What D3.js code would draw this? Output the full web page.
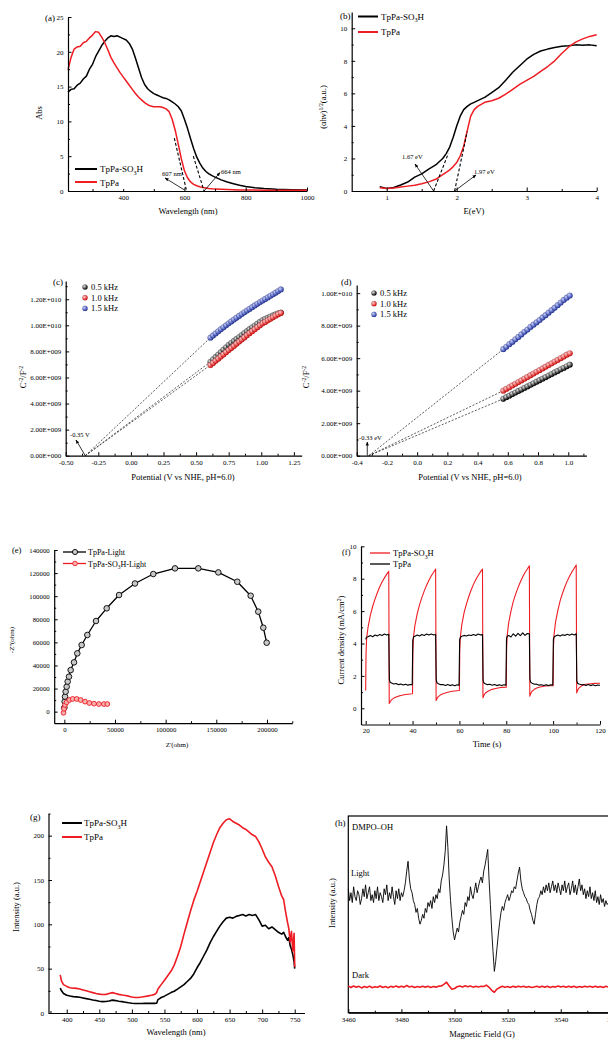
<!DOCTYPE html>
<html><head><meta charset="utf-8">
<script src="https://cdn.jsdelivr.net/npm/d3@7"></script>
<style>
body{margin:0;background:#fff;}
svg{display:block;font-family:"Liberation Serif","Times New Roman",serif;}
</style></head><body>
<svg id="fig" width="608" height="1040"></svg>
<script>
// ---------- (a) UV-vis absorption ----------
const aWave = [220,230,240,250,260,270,280,290,300,310,320,330,340,350,360,370,380,390,400,410,420,430,440,450,460,470,480,490,500,510,520,530,540,550,560,570,580,590,600,610,620,630,640,650,660,670,680,690,700,720,740,760,780,800,830,860,900,950,1000];
const aSO3H = [14.2,14.6,14.7,15.2,15.5,16.1,16.5,17.5,18.2,19.3,20.1,20.9,21.5,22.0,22.3,22.2,22.3,22.1,21.9,21.7,21.2,20.4,19.1,17.7,16.3,15.3,14.7,14.3,14.0,13.8,13.6,13.4,13.3,13.1,12.8,12.5,12.1,11.5,10.3,9.0,7.5,6.1,4.9,4.0,3.3,2.8,2.45,2.2,2.0,1.6,1.3,1.05,0.82,0.65,0.47,0.35,0.25,0.18,0.14];
const aTpPa = [17.4,19.2,20.4,20.7,20.8,21.3,21.5,22.0,22.4,22.9,22.8,22.1,21.3,20.3,19.2,18.4,17.7,17.0,16.4,15.8,15.2,14.6,14.0,13.5,13.1,12.7,12.4,12.2,12.1,12.1,12.1,12.0,11.8,11.4,10.3,8.7,6.7,4.6,2.9,1.9,1.3,0.95,0.75,0.6,0.5,0.43,0.37,0.33,0.3,0.25,0.21,0.18,0.16,0.15,0.13,0.12,0.1,0.09,0.09];
const aTanSO3H = [[629,5.0],[664,0]];
const aTanTpPa = [[567,7.6],[607,0]];
const aXTicks = [400,600,800,1000], aXMinor = [300,500,700,900];
const aYTicks = [0,5,10,15,20,25], aYMinor = [2.5,7.5,12.5,17.5,22.5];

// ---------- (b) Tauc plot ----------
const bE = [0.9,1.0,1.1,1.2,1.3,1.4,1.5,1.6,1.7,1.8,1.85,1.9,1.95,2.0,2.05,2.1,2.15,2.2,2.25,2.3,2.4,2.5,2.6,2.7,2.8,2.9,3.0,3.1,3.2,3.3,3.4,3.5,3.6,3.7,3.8,3.9,4.0];
const bSO3H = [0.27,0.16,0.22,0.37,0.55,0.85,1.05,1.35,1.6,2.0,2.3,2.7,3.3,4.0,4.6,5.0,5.2,5.35,5.45,5.55,5.75,6.05,6.35,6.8,7.3,7.7,8.1,8.4,8.6,8.72,8.82,8.9,8.93,8.98,8.95,8.98,8.92];
const bTpPa = [0.2,0.15,0.18,0.24,0.3,0.36,0.44,0.56,0.72,1.0,1.15,1.3,1.5,1.75,2.15,2.75,3.7,4.6,5.0,5.2,5.45,5.55,5.7,5.95,6.25,6.55,6.8,7.05,7.35,7.65,8.0,8.45,8.85,9.15,9.35,9.5,9.6];
const bTanSO3H = [[1.67,0],[1.88,2.3]];
const bTanTpPa = [[1.97,0],[2.15,3.65]];
const bXTicks = [1,2,3,4], bXMinor = [1.5,2.5,3.5];
const bYTicks = [0,2,4,6,8,10], bYMinor = [1,3,5,7,9];

// ---------- (c) Mott-Schottky, TpPa ----------
const cV = [0.61,0.63,0.65,0.67,0.69,0.71,0.73,0.75,0.77,0.79,0.81,0.83,0.85,0.87,0.89,0.91,0.93,0.95,0.97,0.99,1.01,1.03,1.05,1.07,1.09,1.11,1.13,1.15];
const c05 = [7.20,7.39,7.57,7.76,7.94,8.13,8.31,8.50,8.65,8.80,8.95,9.10,9.25,9.40,9.55,9.70,9.84,9.98,10.12,10.26,10.40,10.49,10.58,10.67,10.76,10.84,10.92,10.98];
const c10 = [6.95,7.11,7.28,7.44,7.61,7.77,7.94,8.10,8.26,8.42,8.59,8.75,8.91,9.07,9.24,9.40,9.55,9.70,9.85,10.00,10.15,10.26,10.38,10.50,10.62,10.74,10.85,10.95];
const c15 = [9.05,9.22,9.38,9.54,9.70,9.85,10.00,10.15,10.30,10.44,10.58,10.72,10.86,11.00,11.13,11.26,11.39,11.52,11.65,11.78,11.90,12.02,12.14,12.26,12.38,12.50,12.63,12.75];
const cFlat = -0.35;
const cXTicks = [-0.5,-0.25,0,0.25,0.5,0.75,1.0,1.25];
const cXLabels = ["-0.50","-0.25","0.00","0.25","0.50","0.75","1.00","1.25"];
const cXMinor = [-0.375,-0.125,0.125,0.375,0.625,0.875,1.125];
const cYTicks = [0,2e9,4e9,6e9,8e9,1e10,1.2e10];
const cYLabels = ["0.00E+000","2.00E+009","4.00E+009","6.00E+009","8.00E+009","1.00E+010","1.20E+010"];
const cYMinor = [1e9,3e9,5e9,7e9,9e9,1.1e10,1.3e10];

// ---------- (d) Mott-Schottky, TpPa-SO3H ----------
const dV = [0.57,0.59,0.61,0.63,0.65,0.67,0.69,0.71,0.73,0.75,0.77,0.79,0.81,0.83,0.85,0.87,0.89,0.91,0.93,0.95,0.97,0.99,1.01];
const d05 = [3.50,3.60,3.69,3.79,3.88,3.98,4.07,4.17,4.26,4.36,4.45,4.55,4.64,4.74,4.83,4.93,5.02,5.12,5.21,5.31,5.40,5.50,5.60];
const d10 = [4.00,4.11,4.21,4.32,4.42,4.53,4.63,4.74,4.84,4.95,5.05,5.16,5.26,5.37,5.47,5.58,5.68,5.79,5.89,6.00,6.10,6.21,6.30];
const d15 = [6.55,6.70,6.86,7.00,7.16,7.30,7.46,7.62,7.76,7.92,8.06,8.20,8.34,8.50,8.64,8.80,8.95,9.10,9.26,9.42,9.58,9.72,9.85];
const dFlat = -0.32, dFlatLabel = -0.33;
const dXTicks = [-0.4,-0.2,0,0.2,0.4,0.6,0.8,1.0];
const dXLabels = ["-0.4","-0.2","0.0","0.2","0.4","0.6","0.8","1.0"];
const dXMinor = [-0.3,-0.1,0.1,0.3,0.5,0.7,0.9,1.1];
const dYTicks = [0,2e9,4e9,6e9,8e9,1e10];
const dYLabels = ["0.00E+000","2.00E+009","4.00E+009","6.00E+009","8.00E+009","1.00E+010"];
const dYMinor = [1e9,3e9,5e9,7e9,9e9];

// ---------- (e) Nyquist ----------
const eTpPaRe = [0,330,660,1300,2300,3300,4600,6250,9540,12800,17100,22700,31250,41800,54000,69700,87800,109200,132200,152000,170700,183900,191400,196400,199700];
const eTpPaIm = [3500,8700,13000,17300,21600,26000,30300,36000,42700,50500,57700,66400,78500,89500,101000,111000,119200,124100,124100,120600,112500,100400,86600,72700,59700];
const eSO3HRe = [-800,-300,660,2300,4900,8200,12200,16100,20400,24700,29300,34200,39100,42400];
const eSO3HIm = [-1000,2500,5800,8100,10100,11000,11000,10100,8700,7500,6900,6600,6600,6600];
const eXTicks = [0,50000,100000,150000,200000], eXMinor = [25000,75000,125000,175000,225000];
const eYTicks = [0,20000,40000,60000,80000,100000,120000,140000], eYMinor = [10000,30000,50000,70000,90000,110000,130000];

// ---------- (f) transient photocurrent ----------
const fSO3HT = [20.0,20.15,20.4,21,22,23,24,25,26,27,28,29,29.85,30.05,30.5,31,32,33,34,35,36,37,38,39.85,
  40.0,40.15,40.4,41,42,43,44,45,46,47,48,49,49.85,50.05,50.5,51,52,53,54,55,56,57,58,59.85,
  60.0,60.15,60.4,61,62,63,64,65,66,67,68,69,69.85,70.05,70.5,71,72,73,74,75,76,77,78,79.85,
  80.0,80.15,80.4,81,82,83,84,85,86,87,88,89,89.85,90.05,90.5,91,92,93,94,95,96,97,98,99.85,
  100.0,100.15,100.4,101,102,103,104,105,106,107,108,109,109.85,110.05,110.5,111,112,113,114,115,116,117,118,119,120];
const fSO3HJ = [1.1,3.4,4.3,5.0,5.75,6.3,6.75,7.15,7.5,7.8,8.05,8.28,8.45,0.3,0.42,0.52,0.63,0.7,0.75,0.79,0.82,0.85,0.87,0.9,
  0.92,3.5,4.4,5.1,5.85,6.4,6.85,7.25,7.6,7.9,8.18,8.4,8.6,0.48,0.62,0.72,0.83,0.9,0.95,0.99,1.02,1.05,1.07,1.1,
  1.1,3.6,4.4,5.15,5.9,6.45,6.9,7.3,7.65,7.95,8.2,8.42,8.6,0.65,0.82,0.93,1.04,1.12,1.17,1.21,1.24,1.27,1.29,1.3,
  1.3,3.7,4.5,5.25,6.0,6.6,7.05,7.45,7.8,8.1,8.38,8.6,8.8,0.75,0.93,1.05,1.17,1.25,1.3,1.33,1.36,1.38,1.39,1.4,
  1.4,3.8,4.55,5.3,6.05,6.65,7.1,7.5,7.85,8.15,8.42,8.65,8.85,0.95,1.12,1.25,1.37,1.44,1.48,1.5,1.52,1.53,1.54,1.55,1.55];
const fTpPaT = [20.0,20.3,21,22,23,24,25,26,27,28,29,29.85,30.1,30.4,31,32,33,34,35,36,37,38,39,39.85,
  40.1,40.4,41,42,43,44,45,46,47,48,49,49.85,50.1,50.4,51,52,53,54,55,56,57,58,59,59.85,
  60.1,60.4,61,62,63,64,65,66,67,68,69,69.85,70.1,70.4,71,72,73,74,75,76,77,78,79,79.85,
  80.1,80.4,81,82,83,84,85,86,87,88,89,89.85,90.1,90.4,91,92,93,94,95,96,97,98,99,99.85,
  100.1,100.4,101,102,103,104,105,106,107,108,109,109.85,110.1,110.4,111,112,113,114,115,116,117,118,119,120];
const fTpPaJ = [4.25,4.38,4.42,4.49,4.42,4.52,4.47,4.55,4.5,4.58,4.52,4.57,1.78,1.62,1.56,1.5,1.53,1.46,1.5,1.44,1.49,1.43,1.47,1.45,
  4.2,4.4,4.45,4.52,4.46,4.55,4.5,4.58,4.52,4.58,4.53,4.56,1.75,1.58,1.52,1.46,1.47,1.41,1.47,1.4,1.45,1.39,1.45,1.42,
  4.22,4.38,4.45,4.5,4.46,4.52,4.49,4.56,4.5,4.58,4.53,4.55,1.72,1.58,1.52,1.46,1.48,1.42,1.47,1.4,1.46,1.41,1.45,1.43,
  4.3,4.45,4.5,4.4,4.6,4.46,4.63,4.48,4.66,4.5,4.62,4.6,1.8,1.62,1.55,1.48,1.49,1.43,1.45,1.41,1.46,1.4,1.45,1.44,
  4.25,4.4,4.46,4.52,4.46,4.54,4.5,4.57,4.51,4.59,4.53,4.6,1.7,1.55,1.5,1.45,1.47,1.41,1.47,1.4,1.45,1.39,1.44,1.42];
const fXTicks = [20,40,60,80,100,120], fXMinor = [30,50,70,90,110];
const fYTicks = [0,2,4,6,8,10], fYMinor = [1,3,5,7,9];

// ---------- (g) photoluminescence ----------
const gWave = [390,392,395,400,405,410,415,420,425,430,435,440,445,450,455,460,465,470,475,480,485,490,495,500,505,510,515,520,525,530,535,538,540,542,545,550,555,560,565,570,575,580,585,590,595,600,605,610,615,620,625,630,635,640,645,650,655,660,665,670,675,680,685,690,695,700,705,710,715,720,725,730,733,736,739,741,743,745,747,749,750];
const gTpPa = [43,36,32,30,28.5,28,27.8,27,26,25,24,23,22,21.3,20.8,21,22,23,22,21,20.3,19.7,19,18,17.5,17.5,18,18.7,19.3,20,21,23,27,29,32,37,42,47,54,64,75,89,102,115,127,137,148,159,170,181,192,201,209,214,218,219,216,214,212,209,207,204,201,199,193,185,176,170,165,155,143,132,128,114,102,95,80,92,70,90,52];
const gSO3H = [28,25,22,20,19.2,18.5,18.2,17.7,17,16.2,15.5,14.7,14,13.3,12.8,12.9,13.5,14.5,14,13.3,12.8,12.2,11.5,11,10.7,10.7,10.7,10.8,10.8,10.9,10.9,11,15,16,17.5,19,21,23,24.5,27,29.5,32,35.5,39,44,51,57,64,71,79,86,92,98,103,107,108,107,109,110,111,109.5,111,110,111,105,98,99,95,97,94,91,89,91,86,82,85,76,72,66,58,50];
const gXTicks = [400,450,500,550,600,650,700,750], gXMinor = [375,425,475,525,575,625,675,725];
const gYTicks = [0,50,100,150,200], gYMinor = [25,75,125,175,225];

// ---------- (h) EPR, DMPO-OH ----------
// light spectrum sampled every 0.5 G, dark spectrum every 1 G
const hFieldLight = d3.range(3460, 3558.25, 0.5);
const hLight = [
  63,57,61,56,64,59,57,62,60,55,58,63,59,65,58,61,64,57,60,56,
  62,58,64,57,61,59,56,63,60,65,57,61,58,64,59,55,62,58,63,57,
  61,59,62,66,72,77,68,63,61,57,55,51,53,48,45,47,50,48,53,51,
  56,54,57,53,59,56,60,58,63,61,67,70,75,82,95,84,68,57,48,41,
  37,40,43,41,46,49,52,50,56,54,59,57,64,60,58,62,66,61,64,67,
  69,66,72,75,79,83,68,55,42,31,21,26,33,40,46,51,54,52,56,58,
  60,57,59,62,61,64,63,67,71,74,67,63,61,59,58,56,55,52,50,47,
  45,50,55,58,59,62,60,64,61,65,62,66,61,64,67,62,65,61,66,63,
  60,65,62,67,61,64,66,60,63,67,61,65,60,64,68,62,65,60,63,58,
  62,59,64,58,61,57,62,56,59,55,60,56,58,54,57,55,
  56];
const hFieldDark = d3.range(3460, 3559, 1);
const hDark = [13.5,12.8,13.6,12.9,13.4,12.6,13.3,12.8,13.5,12.7,13.2,12.9,13.6,12.8,13.3,12.7,13.4,13.0,13.6,12.9,13.5,13.0,13.8,13.1,13.4,12.8,13.3,12.9,13.5,13.0,13.4,12.8,13.3,13.0,13.5,13.6,14.4,15.5,13.6,11.9,
  12.3,13.2,13.6,13.1,13.7,13.2,13.6,13.0,13.5,13.1,13.4,13.3,14.0,12.9,11.4,10.4,12.0,12.8,13.4,12.9,13.3,12.8,13.4,13.0,13.5,13.1,13.4,12.9,13.3,12.8,13.1,13.4,12.9,13.5,13.0,13.4,12.8,13.3,13.0,13.6,
  13.1,13.4,12.9,13.5,13.0,13.4,12.8,13.3,13.0,13.5,13.1,13.4,12.9,13.5,13.0,13.3,12.8,13.4,13.0];
const hXTicks = [3460,3480,3500,3520,3540,3560], hXMinor = [3470,3490,3510,3530,3550];

// ---------- drawing ----------
const RED = "#ee1d23";
const svg = d3.select("#fig");
const defs = svg.append("defs");
defs.append("marker").attr("id","arr").attr("viewBox","0 0 10 10").attr("refX",9).attr("refY",5)
  .attr("markerWidth",5).attr("markerHeight",5).attr("orient","auto-start-reverse")
  .append("path").attr("d","M0,1L10,5L0,9z").attr("fill","#000");
function ball(id, light, col) {
  const gr = defs.append("radialGradient").attr("id", id).attr("cx","35%").attr("cy","35%").attr("r","65%");
  gr.append("stop").attr("offset","0%").attr("stop-color", light);
  gr.append("stop").attr("offset","100%").attr("stop-color", col);
}
ball("gK","#e6e6e6","#000");
ball("gR","#ffd0d0","#e01010");
ball("gB","#c8d0ff","#2a3ca8");

function axes(o) {
  const g = svg.append("g");
  const yb = o.y.range()[0], xl = o.x.range()[0];
  const fx = o.xLabels ? (d => o.xLabels[o.xMajor.indexOf(d)]) : (d => String(d));
  g.append("g").attr("transform",`translate(0,${yb})`)
    .call(d3.axisBottom(o.x).tickValues(o.xMajor).tickFormat(fx).tickSize(-3.5).tickSizeOuter(0).tickPadding(4));
  g.append("g").attr("transform",`translate(0,${yb})`)
    .call(d3.axisBottom(o.x).tickValues(o.xMinor).tickFormat("").tickSize(-2).tickSizeOuter(0))
    .call(s => s.select(".domain").remove());
  if (o.yMajor) {
    const fy = o.yLabels ? (d => o.yLabels[o.yMajor.indexOf(d)]) : (d => String(d));
    g.append("g").attr("transform",`translate(${xl},0)`)
      .call(d3.axisLeft(o.y).tickValues(o.yMajor).tickFormat(fy).tickSize(-3.5).tickSizeOuter(0).tickPadding(4.5));
    g.append("g").attr("transform",`translate(${xl},0)`)
      .call(d3.axisLeft(o.y).tickValues(o.yMinor).tickFormat("").tickSize(-2).tickSizeOuter(0))
      .call(s => s.select(".domain").remove());
  }
  g.selectAll("g").attr("font-family", null).attr("font-size", o.fs || 7);
  g.selectAll(".domain").attr("stroke-width", 1.2);
  g.selectAll(".tick line").attr("stroke-width", 1);
  return g;
}
function text(x, y, str, opt = {}) {
  const t = svg.append("text").attr("x", x).attr("y", y).attr("font-size", opt.fs || 8.5)
    .attr("text-anchor", opt.anchor || "start");
  if (opt.rot) t.attr("transform", `rotate(-90,${x},${y})`);
  return t.text(str);
}
function richText(x, y, parts, opt = {}) {
  // parts: [string, "sub"|"sup"|null]
  const fs = opt.fs || 8.5;
  const t = svg.append("text").attr("x", x).attr("y", y).attr("font-size", fs)
    .attr("text-anchor", opt.anchor || "start");
  if (opt.rot) t.attr("transform", `rotate(-90,${x},${y})`);
  let shift = 0;
  parts.forEach(([s, k]) => {
    const target = k === "sub" ? fs*0.3 : k === "sup" ? -fs*0.38 : 0;
    t.append("tspan").attr("dy", target - shift).attr("font-size", k ? fs*0.68 : fs).text(s);
    shift = target;
  });
  return t;
}
const SO3H = [["TpPa-SO",null],["3","sub"],["H",null]];
function linePath(g, xs, ys, x, y, color, w) {
  return g.append("path").datum(xs.map((d,i)=>[d, ys[i]]))
    .attr("fill","none").attr("stroke",color).attr("stroke-width",w).attr("stroke-linejoin","round")
    .attr("d", d3.line().x(d=>x(d[0])).y(d=>y(d[1])));
}

// ===== (a) =====
{
  const x = d3.scaleLinear([220,1000],[68,307]), y = d3.scaleLinear([0,25],[191,17]);
  const g = svg.append("g");
  linePath(g, aWave, aSO3H, x, y, "#000", 1.5);
  linePath(g, aWave, aTpPa, x, y, RED, 1.5);
  [aTanSO3H, aTanTpPa].forEach(t => g.append("line")
    .attr("x1", x(t[0][0])).attr("y1", y(t[0][1])).attr("x2", x(t[1][0])).attr("y2", y(t[1][1]))
    .attr("stroke","#000").attr("stroke-width",1.1).attr("stroke-dasharray","3,2"));
  axes({x, y, xMajor:aXTicks, xMinor:aXMinor, yMajor:aYTicks, yMinor:aYMinor});
  // legend
  svg.append("rect").attr("x",72).attr("y",162).attr("width",64).attr("height",27).attr("fill","#fff");
  svg.append("line").attr("x1",75).attr("x2",97).attr("y1",169).attr("y2",169).attr("stroke","#000").attr("stroke-width",2);
  svg.append("line").attr("x1",75).attr("x2",97).attr("y1",182).attr("y2",182).attr("stroke",RED).attr("stroke-width",2);
  richText(100, 172, SO3H, {fs:9});
  text(100, 185.5, "TpPa", {fs:9});
  // band-edge arrows
  svg.append("line").attr("x1",x(607)-2).attr("y1",y(0)-1).attr("x2",165).attr("y2",178)
    .attr("stroke","#000").attr("stroke-width",0.8).attr("marker-end","url(#arr)");
  text(162, 175.5, "607 nm", {fs:6.5});
  svg.append("line").attr("x1",x(664)).attr("y1",y(0)).attr("x2",220).attr("y2",172.5)
    .attr("stroke","#000").attr("stroke-width",0.8).attr("marker-end","url(#arr)");
  text(221, 174, "664 nm", {fs:6.5});
  text(45, 21, "(a)", {fs:9});
  text(42, 113, "Abs", {fs:8.5, rot:true, anchor:"middle"});
  text(188, 214, "Wavelength (nm)", {fs:8.5, anchor:"middle"});
}

// ===== (b) =====
{
  const x = d3.scaleLinear([0.5,4.0],[351.7,596.7]), y = d3.scaleLinear([0,11],[191,12]);
  const g = svg.append("g");
  linePath(g, bE, bSO3H, x, y, "#000", 1.5);
  linePath(g, bE, bTpPa, x, y, RED, 1.5);
  [bTanSO3H, bTanTpPa].forEach(t => g.append("line")
    .attr("x1", x(t[0][0])).attr("y1", y(t[0][1])).attr("x2", x(t[1][0])).attr("y2", y(t[1][1]))
    .attr("stroke","#000").attr("stroke-width",1.1).attr("stroke-dasharray","3,2"));
  axes({x, y, xMajor:bXTicks, xMinor:bXMinor, yMajor:bYTicks, yMinor:bYMinor});
  svg.append("line").attr("x1",358).attr("x2",378).attr("y1",16.5).attr("y2",16.5).attr("stroke","#000").attr("stroke-width",2);
  svg.append("line").attr("x1",358).attr("x2",378).attr("y1",32).attr("y2",32).attr("stroke",RED).attr("stroke-width",2);
  richText(381, 19.5, SO3H, {fs:9});
  text(381, 35, "TpPa", {fs:9});
  svg.append("line").attr("x1",x(1.67)).attr("y1",y(0)).attr("x2",415).attr("y2",164)
    .attr("stroke","#000").attr("stroke-width",0.8).attr("marker-end","url(#arr)");
  text(402, 159, "1.67 eV", {fs:6.5});
  svg.append("line").attr("x1",x(1.97)).attr("y1",y(0)).attr("x2",476).attr("y2",175)
    .attr("stroke","#000").attr("stroke-width",0.8).attr("marker-end","url(#arr)");
  text(474, 174, "1.97 eV", {fs:6.5});
  text(340, 19, "(b)", {fs:9});
  richText(326, 107, [["(αhν)",null],["1/2","sup"],["(a.u.)",null]], {fs:8.5, rot:true, anchor:"middle"});
  text(474, 214, "E(eV)", {fs:8.5, anchor:"middle"});
}

// Mott-Schottky panel helper
function msPanel(P) {
  const g = svg.append("g");
  const sets = [[P.s05,"gK"],[P.s10,"gR"],[P.s15,"gB"]];
  sets.forEach(([s]) => g.append("line")
    .attr("x1", P.x(P.flat)).attr("y1", P.y(0)).attr("x2", P.x(P.v[0])).attr("y2", P.y(s[0]*1e9))
    .attr("stroke","#333").attr("stroke-width",0.8).attr("stroke-dasharray","2,1.6"));
  sets.forEach(([s, gid]) => g.append("g").selectAll("circle").data(P.v).join("circle")
    .attr("cx", d => P.x(d)).attr("cy", (d,i) => P.y(s[i]*1e9)).attr("r", 2.9)
    .attr("fill", `url(#${gid})`).attr("stroke","rgba(0,0,0,0.35)").attr("stroke-width",0.4));
  axes({x:P.x, y:P.y, xMajor:P.xT, xLabels:P.xL, xMinor:P.xM, yMajor:P.yT, yLabels:P.yL, yMinor:P.yM});
  ["0.5 kHz","1.0 kHz","1.5 kHz"].forEach((lab, i) => {
    svg.append("circle").attr("cx", P.lx).attr("cy", P.ly + i*10.7).attr("r", 2.6)
      .attr("fill", `url(#${sets[i][1]})`).attr("stroke","rgba(0,0,0,0.35)").attr("stroke-width",0.4);
    text(P.lx + 6, P.ly + i*10.7 + 3, lab, {fs:8.5});
  });
}

// ===== (c) =====
{
  const x = d3.scaleLinear([-0.5,1.31],[65.7,301.7]), y = d3.scaleLinear([0,1.34e10],[455.7,281]);
  msPanel({x, y, v:cV, s05:c05, s10:c10, s15:c15, flat:cFlat, xT:cXTicks, xL:cXLabels, xM:cXMinor,
    yT:cYTicks, yL:cYLabels, yM:cYMinor, lx:85, ly:287});
  svg.append("line").attr("x1",x(cFlat)).attr("y1",y(0)).attr("x2",76).attr("y2",440)
    .attr("stroke","#000").attr("stroke-width",0.8).attr("marker-end","url(#arr)");
  text(70, 437, "-0.35 V", {fs:6.5});
  text(53, 285, "(c)", {fs:9});
  richText(26, 377, [["C",null],["-2","sup"],["/F",null],["-2","sup"]], {fs:8.5, rot:true, anchor:"middle"});
  text(183, 480, "Potential (V vs NHE, pH=6.0)", {fs:8.5, anchor:"middle"});
}

// ===== (d) =====
{
  const x = d3.scaleLinear([-0.4,1.12],[356.7,586.4]), y = d3.scaleLinear([0,1.05e10],[455.7,285]);
  msPanel({x, y, v:dV, s05:d05, s10:d10, s15:d15, flat:dFlat, xT:dXTicks, xL:dXLabels, xM:dXMinor,
    yT:dYTicks, yL:dYLabels, yM:dYMinor, lx:374, ly:293});
  svg.append("line").attr("x1",x(dFlatLabel)).attr("y1",y(0)).attr("x2",x(dFlatLabel)).attr("y2",442)
    .attr("stroke","#000").attr("stroke-width",0.8).attr("marker-end","url(#arr)");
  text(359, 440, "-0.33 eV", {fs:6.5});
  text(341, 285, "(d)", {fs:9});
  richText(309, 377, [["C",null],["-2","sup"],["/F",null],["-2","sup"]], {fs:8.5, rot:true, anchor:"middle"});
  text(470, 480, "Potential (V vs NHE, pH=6.0)", {fs:8.5, anchor:"middle"});
}

// ===== (e) =====
{
  const x = d3.scaleLinear([-10000,225000],[54.2,292.3]), y = d3.scaleLinear([-10000,140000],[723.2,550]);
  const g = svg.append("g");
  linePath(g, eTpPaRe, eTpPaIm, x, y, "#000", 1.3);
  g.append("g").selectAll("circle").data(eTpPaRe).join("circle")
    .attr("cx", d => x(d)).attr("cy", (d,i) => y(eTpPaIm[i])).attr("r", 2.8)
    .attr("fill","#c8c8c8").attr("stroke","#000").attr("stroke-width",0.9);
  linePath(g, eSO3HRe, eSO3HIm, x, y, RED, 1.2);
  g.append("g").selectAll("circle").data(eSO3HRe).join("circle")
    .attr("cx", d => x(d)).attr("cy", (d,i) => y(eSO3HIm[i])).attr("r", 2.4)
    .attr("fill","#f6b0b0").attr("stroke",RED).attr("stroke-width",0.9);
  axes({x, y, xMajor:eXTicks, xMinor:eXMinor, yMajor:eYTicks, yMinor:eYMinor, fs:6.8});
  svg.append("line").attr("x1",63).attr("x2",86).attr("y1",552).attr("y2",552).attr("stroke","#000").attr("stroke-width",1.3);
  svg.append("circle").attr("cx",75).attr("cy",552).attr("r",2.6).attr("fill","#c8c8c8").attr("stroke","#000").attr("stroke-width",0.9);
  svg.append("line").attr("x1",63).attr("x2",86).attr("y1",563.5).attr("y2",563.5).attr("stroke",RED).attr("stroke-width",1.3);
  svg.append("circle").attr("cx",75).attr("cy",563.5).attr("r",2.3).attr("fill","#f6b0b0").attr("stroke",RED).attr("stroke-width",0.9);
  text(88, 555, "TpPa-Light", {fs:8});
  richText(88, 566.5, [["TpPa-SO",null],["3","sub"],["H-Light",null]], {fs:8});
  text(12, 553, "(e)", {fs:8.5});
  text(14, 640, "-Z''(ohm)", {fs:7, rot:true, anchor:"middle"});
  text(177, 747, "Z'(ohm)", {fs:7, anchor:"middle"});
}

// ===== (f) =====
{
  const x = d3.scaleLinear([18,120],[361,600]), y = d3.scaleLinear([-1,10],[724.5,546.3]);
  const g = svg.append("g");
  linePath(g, fSO3HT, fSO3HJ, x, y, RED, 1.1);
  linePath(g, fTpPaT, fTpPaJ, x, y, "#000", 1.1);
  axes({x, y, xMajor:fXTicks, xMinor:fXMinor, yMajor:fYTicks, yMinor:fYMinor});
  svg.append("line").attr("x1",370).attr("x2",390).attr("y1",553).attr("y2",553).attr("stroke",RED).attr("stroke-width",1.3);
  svg.append("line").attr("x1",370).attr("x2",390).attr("y1",564).attr("y2",564).attr("stroke","#000").attr("stroke-width",1.3);
  richText(393, 556, SO3H, {fs:8.5});
  text(393, 567, "TpPa", {fs:8.5});
  text(342, 555, "(f)", {fs:8.5});
  richText(344, 640, [["Current density (mA/cm",null],["2","sup"],[")",null]], {fs:8.5, rot:true, anchor:"middle"});
  text(487, 747, "Time (s)", {fs:8.5, anchor:"middle"});
}

// ===== (g) =====
{
  const x = d3.scaleLinear([372,765],[48.5,304.5]), y = d3.scaleLinear([0,225],[1013,813.5]);
  const g = svg.append("g");
  linePath(g, gWave, gSO3H, x, y, "#000", 1.6);
  linePath(g, gWave, gTpPa, x, y, RED, 1.6);
  axes({x, y, xMajor:gXTicks, xMinor:gXMinor, yMajor:gYTicks, yMinor:gYMinor});
  svg.append("line").attr("x1",62).attr("x2",82).attr("y1",823).attr("y2",823).attr("stroke","#000").attr("stroke-width",2);
  svg.append("line").attr("x1",62).attr("x2",82).attr("y1",837).attr("y2",837).attr("stroke",RED).attr("stroke-width",2);
  richText(84, 826, SO3H, {fs:9});
  text(84, 840, "TpPa", {fs:9});
  text(30, 820, "(g)", {fs:9});
  text(19, 907, "Intensity (a.u.)", {fs:8.5, rot:true, anchor:"middle"});
  text(176, 1035, "Wavelength (nm)", {fs:8.5, anchor:"middle"});
}

// ===== (h) =====
{
  const x = d3.scaleLinear([3460,3570],[348.3,640.4]), y = d3.scaleLinear([0,100],[1012.7,816]);
  const g = svg.append("g");
  g.append("rect").attr("x",348.3).attr("y",816).attr("width",292).attr("height",196.7)
    .attr("fill","none").attr("stroke","#000").attr("stroke-width",1.2);
  linePath(g, hFieldDark, hDark, x, y, RED, 1.6);
  linePath(g, hFieldLight, hLight, x, y, "#000", 0.9);
  axes({x, y, xMajor:hXTicks, xMinor:hXMinor});
  text(335, 826, "(h)", {fs:9});
  text(352, 830, "DMPO–OH", {fs:8.5});
  text(351, 876, "Light", {fs:8.5});
  text(352, 978, "Dark", {fs:8.5});
  text(335, 903, "Intensity (a.u.)", {fs:8.5, rot:true, anchor:"middle"});
  text(482, 1037, "Magnetic Field (G)", {fs:8.5, anchor:"middle"});
}
</script>
</body></html>
